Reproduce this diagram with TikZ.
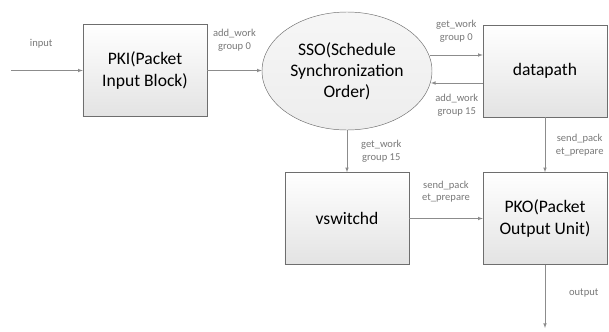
\documentclass[tikz,border=0pt]{standalone}
\usepackage{fontspec}
\setmainfont{Carlito}
\usepackage{tikz}
\usetikzlibrary{positioning,shapes.geometric,arrows}

\definecolor{edgegray}{RGB}{110,110,110}
\definecolor{linegray}{RGB}{140,140,140}
\definecolor{textgray}{RGB}{120,120,120}

\tikzset{
    block/.style={draw=edgegray, top color=white, bottom color=gray!22,
        minimum width=3.72cm, minimum height=2.76cm, align=center,
        font=\fontsize{15}{18}\selectfont},
    sched/.style={ellipse, draw=edgegray, top color=gray!7, bottom color=gray!14,
        minimum width=5.1cm, minimum height=3.54cm, inner sep=0pt, align=center,
        font=\fontsize{15}{18}\selectfont},
    link/.style={draw=linegray, -latex},
    lbl/.style={text=textgray, align=center, font=\fontsize{9}{11}\selectfont}
}

\begin{document}
\begin{tikzpicture}[x=0.03cm, y=-0.03cm]
    \useasboundingbox (0,0) rectangle (609,331);

    % blocks
    \node[block] (pki) at (145,70.5) {PKI(Packet\\Input Block)};
    \node[sched] (sso) at (347,71) {SSO(Schedule\\Synchronization\\Order)};
    \node[block] (dp) at (545,71) {datapath};
    \node[block] (vsw) at (347,218.5) {vswitchd};
    \node[block] (pko) at (545,218.5) {PKO(Packet\\Output Unit)};

    \coordinate (in) at (11,70.5);
    \coordinate (out) at (545,328);

    % links
    \draw[link] (in) -- node[lbl, above=0.55cm, pos=0.42] {input} (pki);
    \draw[link] (pki) -- node[lbl, above=0.45cm] {add\_work\\group 0} (sso.west |- pki.east);
    \draw[link] ([yshift=0.48cm]dp.west -| sso.east) ++(-0.07cm,0) coordinate (g0)
        -- node[lbl, above=0.25cm] {get\_work\\group 0} ([yshift=0.48cm]dp.west);
    \draw[link] ([yshift=-0.36cm]dp.west) coordinate (a15)
        -- node[lbl, below=0.2cm] {add\_work\\group 15} ([xshift=-0.04cm]a15 -| sso.east);
    \draw[link] (sso) -- node[lbl, right=0.3cm] {get\_work\\group 15} (vsw);
    \draw[link] (vsw) -- node[lbl, above=0.35cm] {send\_pack\\et\_prepare} (pko);
    \draw[link] (dp) -- node[lbl, right=0.2cm] {send\_pack\\et\_prepare} (pko);
    \draw[link] (pko) -- node[lbl, right=0.6cm, pos=0.45] {output} (out);
\end{tikzpicture}
\end{document}
